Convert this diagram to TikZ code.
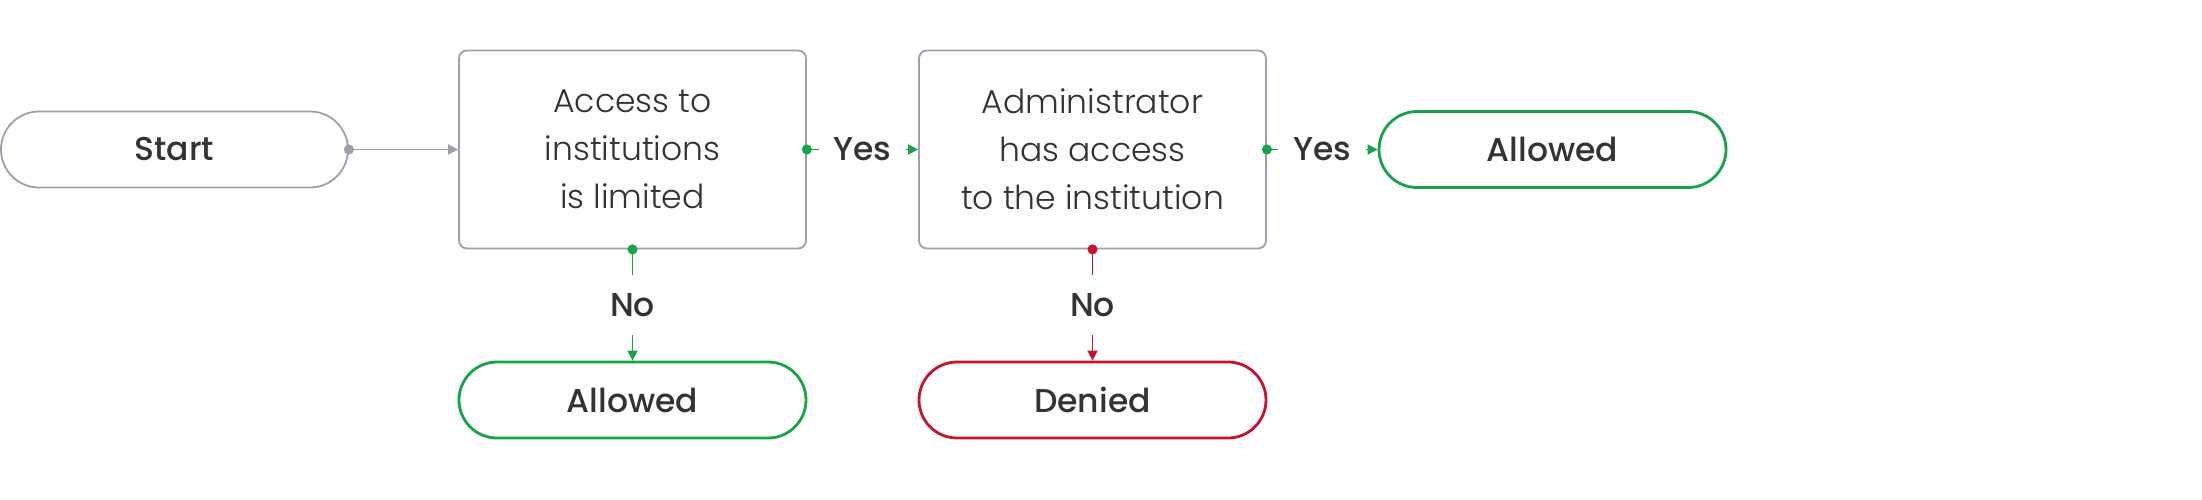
\documentclass[tikz,border=0pt]{standalone}
\usepackage{fontspec}
\setmainfont{Poppins}
\newfontfamily\poplight{Poppins Light}
\newfontfamily\popmed{Poppins Medium}
\usetikzlibrary{arrows.meta}
\definecolor{edgegray}{HTML}{9CA0AE}
\definecolor{okgreen}{HTML}{17A24B}
\definecolor{nored}{HTML}{C8142A}
\definecolor{ink}{HTML}{333333}

\begin{document}
\begin{tikzpicture}[x=0.5pt,y=-0.5pt,
  terminal/.style={draw=#1,line width=1.4pt,rounded corners=19pt,minimum width=173.5pt,
    minimum height=38pt,inner sep=0pt,text=ink,font=\popmed\fontsize{16.5}{24}\selectfont},
  decision/.style={draw=edgegray,line width=0.9pt,rounded corners=4pt,minimum width=173.5pt,
    minimum height=99pt,align=center,text=ink,font=\poplight\fontsize{16.5}{24}\selectfont},
  flow/.style={draw=#1,line width=0.9pt,{Circle[length=5pt]}-{Triangle[length=5pt,width=5pt]},
    shorten <=-2.5pt},
  lbl/.style={fill=white,text=ink,inner xsep=7.5pt,inner ysep=9.3pt,
    font=\popmed\fontsize{16.5}{24}\selectfont},
]
\useasboundingbox (0,0) rectangle (2202,499);

% terminals and decisions
\node[terminal=edgegray,line width=0.9pt] (start) at (174.5,149.5) {Start};
\node[decision] (limited) at (632.5,149.5) {Access to\\institutions\\is limited};
\node[decision] (admin) at (1092.5,149.5) {Administrator\\has access\\to the institution};
\node[terminal=okgreen] (allowedA) at (1552.5,149.5) {Allowed};
\node[terminal=okgreen] (allowedB) at (632.5,400) {Allowed};
\node[terminal=nored] (denied) at (1092.5,400) {Denied};

% connectors
\draw[flow=edgegray] (start.east) -- (limited.west);
\draw[flow=okgreen] (limited.east) -- node[lbl] {Yes} (admin.west);
\draw[flow=okgreen] (admin.east) -- node[lbl] {Yes} (allowedA.west);
\draw[flow=okgreen] (limited.south) -- node[lbl] {No} (allowedB.north);
\draw[flow=nored] (admin.south) -- node[lbl] {No} (denied.north);

\end{tikzpicture}
\end{document}
